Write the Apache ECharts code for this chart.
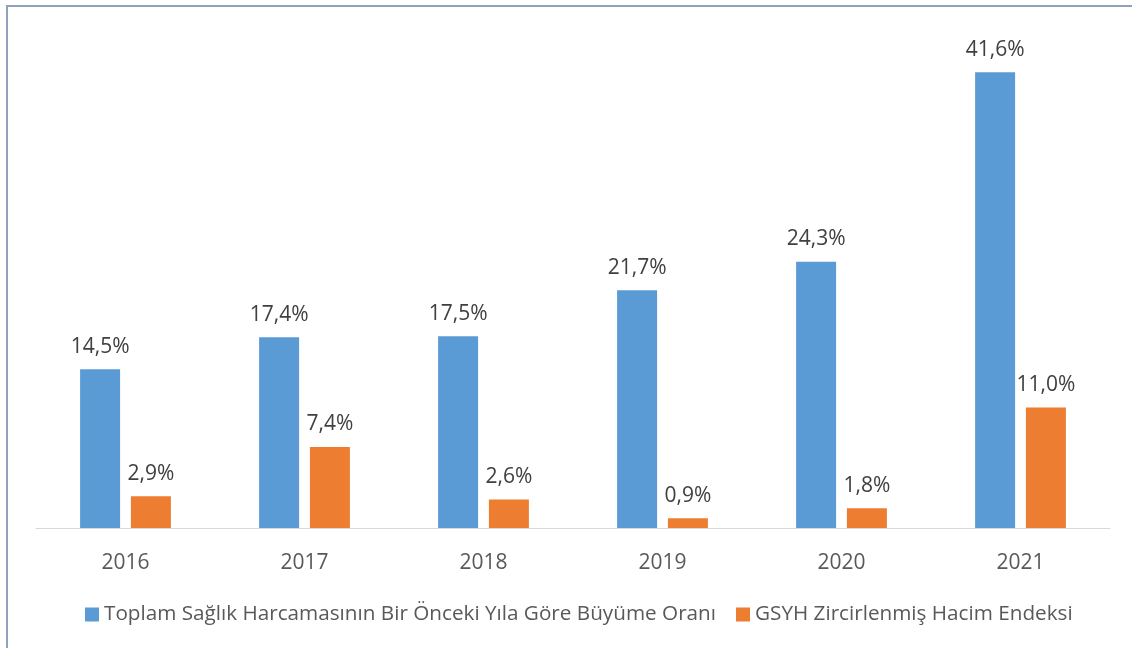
<!DOCTYPE html>
<html>
<head>
<meta charset="utf-8">
<script src="https://cdn.jsdelivr.net/npm/echarts@6/dist/echarts.min.js"></script>
<style>
html, body { margin: 0; padding: 0; background: #fff; }
#frame { position: absolute; left: 6px; top: 5px; width: 1140px; height: 660px;
  border-left: 2px solid #8ea2bd; border-top: 2px solid #8ea2bd; }
#chart { position: absolute; left: 0; top: 0; width: 1132px; height: 648px; }
</style>
</head>
<body>
<div id="frame"></div>
<div id="chart"></div>
<script>
var years = ['2016', '2017', '2018', '2019', '2020', '2021'];
var healthGrowth = [14.5, 17.4, 17.5, 21.7, 24.3, 41.6];
var gdpIndex = [2.9, 7.4, 2.6, 0.9, 1.8, 11.0];
var seriesNames = ['Toplam Sağlık Harcamasının Bir Önceki Yıla Göre Büyüme Oranı', 'GSYH Zircirlenmiş Hacim Endeksi'];

var fmt = function(p) {
	return p.value.toFixed(1).replace('.', ',') + '%';
};

var chart = echarts.init(document.getElementById('chart'));
chart.setOption({
	animation: false,
	textStyle: { fontFamily: 'Open Sans' },
	grid: { left: 36, right: 22, top: 35, bottom: 120 },
	legend: {
		bottom: 18,
		left: 80,
		itemWidth: 14,
		itemHeight: 14,
		itemGap: 20,
		icon: 'rect',
		textStyle: { fontSize: 20.7, color: '#595959', fontFamily: 'Open Sans' },
		data: seriesNames
	},
	xAxis: {
		type: 'category',
		data: years,
		axisLine: { lineStyle: { color: '#d9d9d9', width: 1 } },
		axisTick: { show: false },
		axisLabel: { fontSize: 21, color: '#595959', margin: 25 }
	},
	yAxis: {
		type: 'value',
		min: 0,
		max: 45,
		show: false,
		splitLine: { show: false }
	},
	series: [{
		name: seriesNames[0],
		type: 'bar',
		data: healthGrowth,
		barWidth: 40,
		barGap: '27%',
		itemStyle: { color: '#5b9bd5' },
		label: { show: true, position: 'top', distance: 12, fontSize: 21, color: '#404040', formatter: fmt }
	}, {
		name: seriesNames[1],
		type: 'bar',
		data: gdpIndex,
		barWidth: 40,
		itemStyle: { color: '#ed7d31' },
		label: { show: true, position: 'top', distance: 12, fontSize: 21, color: '#404040', formatter: fmt }
	}]
});
</script>
</body>
</html>
